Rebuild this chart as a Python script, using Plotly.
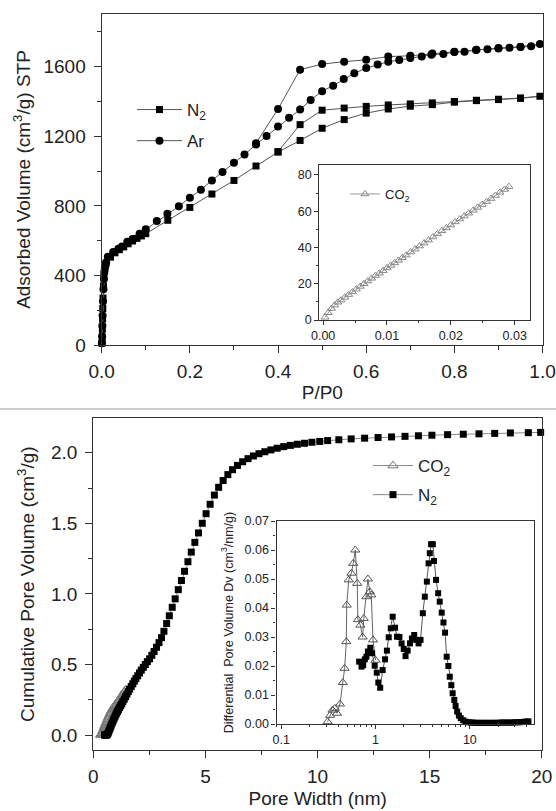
import plotly.graph_objects as go

# ---------------- Top panel: isotherms ----------------
n2_iso_p = [0.0005, 0.001, 0.0015, 0.002, 0.0025, 0.003, 0.004, 0.005, 0.006, 0.007, 0.008, 0.01,
            0.02, 0.03, 0.04, 0.05, 0.06, 0.07, 0.08, 0.09, 0.1, 0.15, 0.2, 0.25, 0.3, 0.35, 0.4,
            0.45, 0.5, 0.55, 0.6, 0.65, 0.7, 0.75, 0.8, 0.85, 0.9, 0.95, 0.994,
            0.95, 0.9, 0.85, 0.8, 0.75, 0.7, 0.65, 0.6, 0.55, 0.5, 0.45, 0.4]
n2_iso_v = [10, 40, 90, 150, 210, 270, 340, 390, 420, 440, 455, 470,
            505, 530, 548, 564, 582, 598, 613, 627, 640, 717, 791, 868, 946, 1029, 1109,
            1176, 1246, 1296, 1333, 1357, 1373, 1382, 1396, 1405, 1411, 1418, 1430,
            1420, 1413, 1407, 1400, 1392, 1386, 1380, 1372, 1362, 1350, 1267, 1112]

ar_iso_p = [0.0005, 0.001, 0.0015, 0.002, 0.003, 0.004, 0.005, 0.006, 0.007, 0.008, 0.01,
            0.014, 0.026, 0.038, 0.046, 0.058, 0.07, 0.086, 0.1, 0.125, 0.149, 0.175, 0.2, 0.225,
            0.25, 0.274, 0.3, 0.324, 0.35, 0.374, 0.4, 0.425, 0.45, 0.474, 0.5, 0.525, 0.549,
            0.573, 0.6, 0.626, 0.65, 0.675, 0.7, 0.726, 0.748, 0.775, 0.8, 0.823, 0.849, 0.875,
            0.9, 0.925, 0.95, 0.974, 0.994,
            0.95, 0.9, 0.85, 0.8, 0.75, 0.7, 0.65, 0.6, 0.55, 0.5, 0.45, 0.4, 0.35]
ar_iso_v = [10, 50, 110, 170, 250, 320, 380, 420, 445, 462, 475,
            507, 535, 554, 567, 593, 610, 640, 665, 713, 755, 797, 847, 893,
            946, 994, 1048, 1095, 1153, 1201, 1256, 1306, 1354, 1409, 1459, 1491, 1529,
            1562, 1592, 1612, 1629, 1638, 1650, 1658, 1669, 1673, 1684, 1686, 1696, 1700,
            1705, 1709, 1713, 1717, 1730,
            1715, 1707, 1697, 1686, 1676, 1663, 1658, 1640, 1629, 1615, 1583, 1357, 1160]

co2_iso_p = [0.0003, 0.0008, 0.0013, 0.0018, 0.0023, 0.0028, 0.0034, 0.0040, 0.0046, 0.0052,
             0.0058, 0.0064, 0.0070, 0.0076, 0.0082, 0.0088, 0.0094, 0.0100, 0.0106, 0.0112,
             0.0118, 0.0124, 0.0130, 0.0137, 0.0144, 0.0151, 0.0158, 0.0165, 0.0172, 0.0179,
             0.0186, 0.0193, 0.0200, 0.0207, 0.0214, 0.0221, 0.0228, 0.0235, 0.0242, 0.0249,
             0.0256, 0.0263, 0.0270, 0.0277, 0.0284, 0.0291]
co2_iso_v = [1.5, 4, 6.3, 8.2, 9.8, 11, 12.5, 14, 15.5, 17,
             18.5, 20, 21.5, 23, 24.5, 25.8, 27.2, 28.7, 30.1, 31.5,
             32.9, 34.3, 35.8, 37.5, 39.1, 40.8, 42.4, 44.1, 45.8, 47.5,
             49.2, 50.8, 52.4, 54.1, 55.7, 57.3, 58.9, 60.5, 62.1, 63.7,
             65.3, 67.0, 68.7, 70.4, 72.0, 73.6]

top_xticks = [0.0, 0.2, 0.4, 0.6, 0.8, 1.0]

# ---------------- Bottom panel: cumulative pore volume ----------------
n2_cum_w = [0.50, 0.53, 0.56, 0.59, 0.62, 0.65, 0.68, 0.71, 0.74, 0.77, 0.80, 0.84, 0.88, 0.92,
            0.96, 1.00, 1.04, 1.08, 1.12, 1.17, 1.22, 1.27, 1.32, 1.38, 1.44, 1.50, 1.56, 1.62,
            1.69, 1.76, 1.83, 1.90, 1.98, 2.06, 2.14, 2.23, 2.32, 2.41, 2.51, 2.61, 2.71, 2.82,
            2.93, 3.04, 3.15, 3.27, 3.39, 3.52, 3.65, 3.79, 3.93, 4.07, 4.22, 4.37, 4.53, 4.69,
            4.86, 5.03, 5.21, 5.40, 5.59, 5.79, 6.00, 6.21, 6.43, 6.66, 6.90, 7.14, 7.39, 7.65,
            7.92, 8.20, 8.49, 8.79, 9.10, 9.42, 9.75, 10.10, 10.45, 10.95, 11.50, 12.10, 12.70,
            13.30, 13.90, 14.50, 15.10, 15.80, 16.50, 17.20, 17.90, 18.60, 19.40, 19.95]
n2_cum_v = [0.000, 0.000, 0.000, 0.000, 0.004, 0.012, 0.022, 0.034, 0.046, 0.058, 0.070, 0.085,
            0.100, 0.114, 0.128, 0.142, 0.155, 0.168, 0.180, 0.194, 0.208, 0.222, 0.237, 0.254,
            0.272, 0.290, 0.308, 0.325, 0.344, 0.363, 0.382, 0.400, 0.420, 0.440, 0.460, 0.480,
            0.500, 0.520, 0.540, 0.565, 0.592, 0.622, 0.655, 0.690, 0.735, 0.790, 0.845, 0.905,
            0.965, 1.030, 1.095, 1.160, 1.228, 1.296, 1.365, 1.432, 1.500, 1.568, 1.635, 1.700,
            1.755, 1.803, 1.845, 1.880, 1.910, 1.936, 1.958, 1.977, 1.993, 2.007, 2.020, 2.032,
            2.043, 2.052, 2.060, 2.067, 2.074, 2.080, 2.086, 2.092, 2.098, 2.103, 2.108, 2.112,
            2.116, 2.120, 2.124, 2.128, 2.131, 2.134, 2.137, 2.140, 2.142, 2.144]

co2_cum_w = [0.33, 0.35, 0.37, 0.39, 0.41, 0.43, 0.45, 0.47, 0.49, 0.51, 0.53, 0.56, 0.59, 0.62,
             0.65, 0.68, 0.71, 0.74, 0.77, 0.80, 0.83, 0.86, 0.89, 0.92, 0.95, 0.98, 1.02, 1.06,
             1.10, 1.14, 1.18, 1.22, 1.26, 1.30, 1.34, 1.38, 1.42, 1.45]
co2_cum_v = [0.000, 0.003, 0.007, 0.012, 0.018, 0.025, 0.033, 0.041, 0.050, 0.059, 0.068, 0.080,
             0.091, 0.102, 0.113, 0.124, 0.135, 0.145, 0.155, 0.165, 0.174, 0.182, 0.190, 0.197,
             0.204, 0.211, 0.220, 0.229, 0.238, 0.247, 0.256, 0.265, 0.274, 0.284, 0.294, 0.304,
             0.314, 0.320]

# ---------------- Bottom inset: differential pore volume ----------------
co2_psd_w = [0.31, 0.33, 0.35, 0.37, 0.39, 0.42, 0.45, 0.47, 0.49, 0.495, 0.52, 0.555, 0.58,
             0.61, 0.64, 0.65, 0.69, 0.73, 0.75, 0.80, 0.83, 0.87, 0.90, 0.94, 1.00]
co2_psd_dv = [0.0008, 0.0030, 0.0048, 0.0054, 0.0037, 0.0069, 0.0143, 0.0192, 0.0284, 0.0410,
              0.0497, 0.0520, 0.0554, 0.0600, 0.0485, 0.0360, 0.0341, 0.0300, 0.0364, 0.0439,
              0.0500, 0.0456, 0.0445, 0.0290, 0.0220]

n2_psd_w = [0.67, 0.71, 0.74, 0.77, 0.80, 0.83, 0.88, 0.92, 0.98, 1.03, 1.07, 1.12, 1.19, 1.26,
            1.32, 1.38, 1.45, 1.52, 1.61, 1.69, 1.79, 1.89, 1.99, 2.08, 2.19, 2.32, 2.43, 2.57,
            2.70, 2.86, 3.00, 3.17, 3.33, 3.50, 3.65, 3.76, 3.88, 4.05, 4.17, 4.38, 4.61, 4.79,
            5.03, 5.25, 5.46, 5.68, 5.92, 6.12, 6.36, 6.57, 6.84, 7.06, 7.34, 7.65, 8.00, 8.50,
            9.00, 9.70, 10.2, 10.8, 11.4, 12.0, 12.7, 13.4, 14.2, 15.0, 16.0, 17.0, 18.0, 19.0,
            20.0, 21.3, 22.6, 24.0, 25.5, 27.0, 28.6, 30.3, 32.0, 34.0, 36.0, 38.0, 40.0, 41.8]
n2_psd_dv = [0.0215, 0.0198, 0.0203, 0.0223, 0.0232, 0.0250, 0.0263, 0.0244, 0.0201, 0.0177,
             0.0143, 0.0125, 0.0186, 0.0223, 0.0253, 0.0299, 0.0330, 0.0370, 0.0332, 0.0301,
             0.0300, 0.0278, 0.0259, 0.0234, 0.0253, 0.0278, 0.0295, 0.0307, 0.0290, 0.0278,
             0.0290, 0.0382, 0.0439, 0.0491, 0.0554, 0.0589, 0.0620, 0.0620, 0.0562, 0.0497,
             0.0451, 0.0422, 0.0384, 0.0350, 0.0315, 0.0232, 0.0200, 0.0163, 0.0134, 0.0106,
             0.0083, 0.0062, 0.0043, 0.0029, 0.0020, 0.0013, 0.0008, 0.0006, 0.0005, 0.0005,
             0.0004, 0.0004, 0.0004, 0.0004, 0.0004, 0.0004, 0.0004, 0.0004, 0.0004, 0.0004,
             0.0004, 0.0005, 0.0005, 0.0005, 0.0005, 0.0005, 0.0005, 0.0006, 0.0006, 0.0006,
             0.0007, 0.0008, 0.0008, 0.0009]

W, H = 556, 811
FONT = "Liberation Sans, Arial, sans-serif"
AX = "#333333"
TXT = "#222222"


def dx(a, b):
    return [a / W, b / W]


def dy(top, bottom):
    return [1 - bottom / H, 1 - top / H]


fig = go.Figure()

# top main
fig.add_trace(go.Scatter(x=n2_iso_p, y=n2_iso_v, mode="lines+markers", name="N<sub>2</sub>",
                         legendgroup="a",
                         marker=dict(symbol="square", size=7, color="black"),
                         line=dict(color="#555", width=1), xaxis="x", yaxis="y",
                         legend="legend", cliponaxis=False))
fig.add_trace(go.Scatter(x=ar_iso_p, y=ar_iso_v, mode="lines+markers", name="Ar",
                         legendgroup="b",
                         marker=dict(symbol="circle", size=8, color="black"),
                         line=dict(color="#555", width=1), xaxis="x", yaxis="y",
                         legend="legend", cliponaxis=False))
# top inset
fig.add_trace(go.Scatter(x=co2_iso_p, y=co2_iso_v, mode="lines+markers", name="CO<sub>2</sub>",
                         marker=dict(symbol="triangle-up-open", size=7, color="#888",
                                     line=dict(width=1)),
                         line=dict(color="#999", width=1), xaxis="x2", yaxis="y2",
                         legend="legend2", cliponaxis=False))
# bottom main
fig.add_trace(go.Scatter(x=co2_cum_w, y=co2_cum_v, mode="lines+markers", name="CO<sub>2</sub>",
                         legendgroup="c",
                         marker=dict(symbol="triangle-up-open", size=9, color="#777",
                                     line=dict(width=1)),
                         line=dict(color="#888", width=1), xaxis="x3", yaxis="y3",
                         legend="legend3", cliponaxis=False))
fig.add_trace(go.Scatter(x=n2_cum_w, y=n2_cum_v, mode="lines+markers", name="N<sub>2</sub>",
                         legendgroup="d",
                         marker=dict(symbol="square", size=7, color="black"),
                         line=dict(color="#888", width=1), xaxis="x3", yaxis="y3",
                         legend="legend3", cliponaxis=False))
# bottom inset
fig.add_trace(go.Scatter(x=co2_psd_w, y=co2_psd_dv, mode="lines+markers", showlegend=False,
                         marker=dict(symbol="triangle-up-open", size=8, color="#555",
                                     line=dict(width=1)),
                         line=dict(color="#666", width=1), xaxis="x4", yaxis="y4",
                         cliponaxis=False))
fig.add_trace(go.Scatter(x=n2_psd_w, y=n2_psd_dv, mode="lines+markers", showlegend=False,
                         marker=dict(symbol="square", size=6, color="black"),
                         line=dict(color="#555", width=1), xaxis="x4", yaxis="y4",
                         cliponaxis=False))

base = dict(showline=True, linecolor=AX, linewidth=1.3, mirror=True, ticks="outside",
            tickcolor=AX, tickwidth=1.2, showgrid=False, zeroline=False)


def ax(**kw):
    d = dict(base)
    d.update(kw)
    return d


big = dict(family=FONT, size=19, color=TXT)
leg = dict(family=FONT, size=17, color=TXT)
mid = dict(family=FONT, size=12.5, color=TXT)
small = dict(family=FONT, size=12.5, color=TXT)

log_minor = [0.09, 0.2, 0.3, 0.4, 0.5, 0.6, 0.7, 0.8, 0.9, 2, 3, 4, 5, 6, 7, 8, 9, 20, 30, 40]

fig.update_layout(
    width=W, height=H, template="none",
    margin=dict(l=0, r=0, t=0, b=0),
    paper_bgcolor="white", plot_bgcolor="white",
    font=dict(family=FONT, color=TXT),
    xaxis=ax(domain=dx(101.7, 543), anchor="y", range=[0, 1.001], tickvals=top_xticks,
             tickformat=".1f", ticklen=7, tickfont=big, ticklabelstandoff=2,
             minor=dict(dtick=0.1, tick0=0, ticks="outside", ticklen=4, tickcolor=AX),
             title=dict(text="P/P0", font=big, standoff=4)),
    yaxis=ax(domain=dy(14, 345), anchor="x", range=[0, 1903], dtick=400, tick0=0,
             ticklen=7, tickfont=big, ticklabelstandoff=4,
             minor=dict(dtick=200, ticks="outside", ticklen=4, tickcolor=AX),
             title=dict(text="Adsorbed Volume (cm<sup>3</sup>/g) STP", font=big, standoff=7)),
    xaxis2=ax(domain=dx(319.3, 530), anchor="y2", range=[-0.0006, 0.0324], dtick=0.01, tick0=0,
              tickformat=".2f", ticklen=4, tickfont=mid,
              minor=dict(dtick=0.005, ticks="outside", ticklen=2, tickcolor=AX)),
    yaxis2=ax(domain=dy(165, 320), anchor="x2", range=[0, 85.5], dtick=20, tick0=0,
              ticklen=4, tickfont=mid,
              minor=dict(dtick=10, ticks="outside", ticklen=2, tickcolor=AX)),
    xaxis3=ax(domain=dx(93.3, 542), anchor="y3", range=[0, 20.01], dtick=5, tick0=0,
              ticklen=7, tickfont=big, ticklabelstandoff=2,
              minor=dict(dtick=2.5, ticks="outside", ticklen=4, tickcolor=AX),
              title=dict(text="Pore Width (nm)", font=big, standoff=5)),
    yaxis3=ax(domain=dy(418, 750.3), anchor="x3", range=[-0.108, 2.246], dtick=0.5, tick0=0,
              tickformat=".1f", ticklen=7, tickfont=big, ticklabelstandoff=4,
              minor=dict(dtick=0.25, ticks="outside", ticklen=4, tickcolor=AX),
              title=dict(text="Cumulative Pore Volume (cm<sup>3</sup>/g)", font=big, standoff=11)),
    xaxis4=ax(domain=dx(276.5, 534), anchor="y4", type="log", range=[-1.05, 1.68],
              tickvals=[0.1, 1, 10], ticktext=["0.1", "1", "10"], ticklen=4, tickfont=small,
              minor=dict(tickvals=log_minor, ticks="outside", ticklen=2, tickcolor=AX)),
    yaxis4=ax(domain=dy(521, 724), anchor="x4", range=[0, 0.07], dtick=0.01, tick0=0,
              tickformat=".2f", ticklen=4, tickfont=small,
              minor=dict(dtick=0.005, ticks="outside", ticklen=2, tickcolor=AX),
              title=dict(text="Differential  Pore Volume Dv (cm<sup>3</sup>/nm/g)",
                         font=dict(family=FONT, size=12.5, color=TXT), standoff=8)),
    legend=dict(x=132 / W, y=1 - 92 / H, xanchor="left", yanchor="top", itemwidth=45,
                bgcolor="rgba(0,0,0,0)", font=leg, tracegroupgap=6),
    legend2=dict(x=345 / W, y=1 - 179 / H, xanchor="left", yanchor="top",
                 bgcolor="rgba(0,0,0,0)", font=dict(family=FONT, size=13, color=TXT)),
    legend3=dict(x=368 / W, y=1 - 448 / H, xanchor="left", yanchor="top", itemwidth=40,
                 bgcolor="rgba(0,0,0,0)", font=leg, tracegroupgap=4),
    shapes=[dict(type="line", xref="paper", yref="paper", x0=0, x1=1,
                 y0=1 - 409 / H, y1=1 - 409 / H, line=dict(color="#999", width=1))],
)

fig.write_html("out.html", config={"displayModeBar": False},
               post_script="document.body.style.margin='0';")
